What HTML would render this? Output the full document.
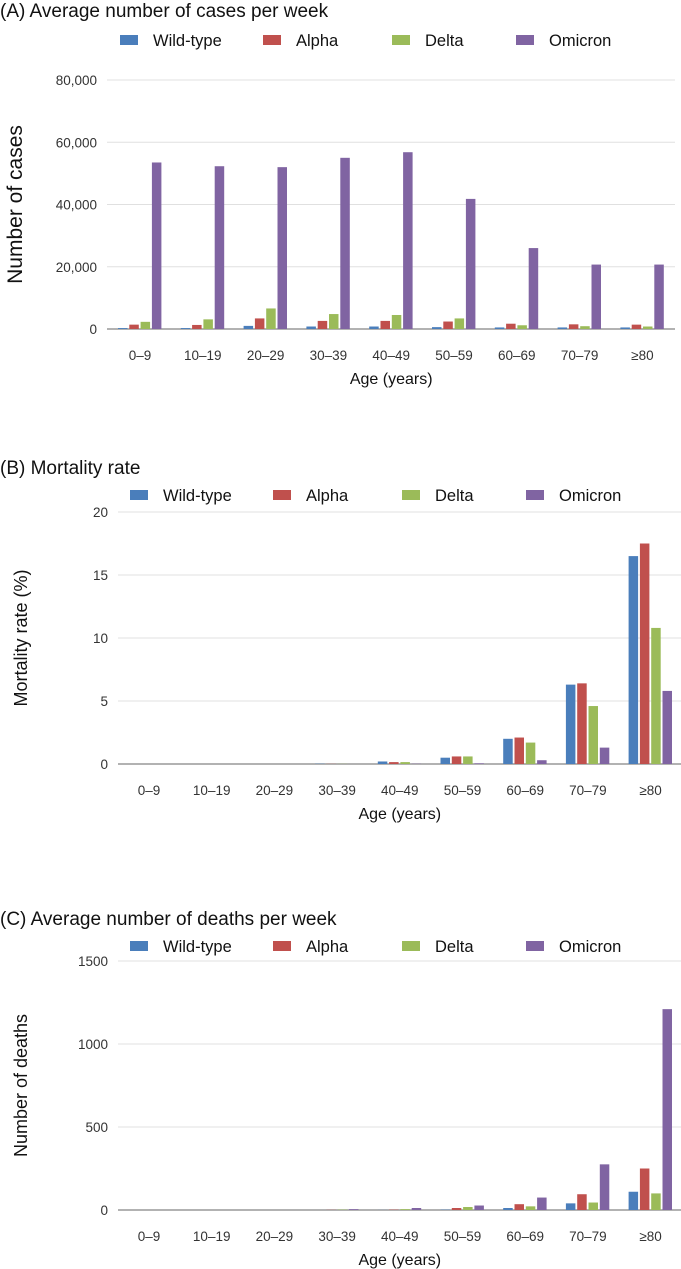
<!DOCTYPE html>
<html><head><meta charset="utf-8"><style>
body{margin:0;background:#fff;font-family:"Liberation Sans",sans-serif;}
svg{display:block}
</style></head><body>
<svg id="chart" width="681" height="1269" xmlns="http://www.w3.org/2000/svg"></svg>
<script>
const categories=["0–9","10–19","20–29","30–39","40–49","50–59","60–69","70–79","≥80"];
const seriesNames=["Wild-type","Alpha","Delta","Omicron"];
const casesWild=[300,300,1000,800,800,600,500,500,500];
const casesAlpha=[1400,1300,3400,2600,2600,2400,1700,1500,1400];
const casesDelta=[2300,3100,6600,4800,4500,3400,1200,900,800];
const casesOmicron=[53500,52300,52000,55000,56800,41800,26000,20700,20700];
const mortWild=[0,0,0,0.02,0.2,0.5,2.0,6.3,16.5];
const mortAlpha=[0,0,0,0.01,0.15,0.6,2.1,6.4,17.5];
const mortDelta=[0,0,0,0.01,0.15,0.6,1.7,4.6,10.8];
const mortOmicron=[0,0,0,0,0.02,0.05,0.3,1.3,5.8];
const deathWild=[0,0,0,0,0.5,2,12,40,110];
const deathAlpha=[0,0,0,1,2,12,35,95,250];
const deathDelta=[0,0,0,2,5,18,22,45,100];
const deathOmicron=[0,0,0,5,12,27,75,275,1210];
const ticksA=[0,20000,40000,60000,80000];
const ticksB=[0,5,10,15,20];
const ticksC=[0,500,1000,1500];

const colors=["#4a7ebb","#c0504d","#9bbb59","#8064a2"];
const svg=document.getElementById('chart');
const NS="http://www.w3.org/2000/svg";
function mk(tag,attrs,parent){const e=document.createElementNS(NS,tag);for(const k in attrs)e.setAttribute(k,attrs[k]);(parent||svg).appendChild(e);return e;}
function txt(s,attrs,parent){const e=mk('text',attrs,parent);e.textContent=s;return e;}

function panel(cfg){
  const g=mk('g',{});
  
  
  const t=txt(cfg.title,{x:0,y:cfg.titleY,'font-size':19,fill:'#111'},g);
  
  
  const lx=[cfg.lx0,cfg.lx0+143,cfg.lx0+272,cfg.lx0+396];
  seriesNames.forEach((n,i)=>{
    const lg=mk('g',{},g);
    
    
    mk('rect',{x:lx[i],y:cfg.legY-6,width:18,height:10,fill:colors[i]},lg);
    txt(n,{x:lx[i]+33,y:cfg.legY+5,'font-size':16.5,fill:'#111'},lg);
  });
  const y=v=>cfg.y0-(v/cfg.max)*(cfg.y0-cfg.yTop);
  cfg.ticks.forEach(v=>{
    const gl=mk('line',{x1:cfg.left,x2:cfg.right,y1:y(v),y2:y(v),stroke:v===0?'#999':'#e0e0e0','stroke-width':v===0?1.5:1},g);
    
    
    const tl=txt(cfg.fmt(v),{x:cfg.left-10,y:y(v)+5,'font-size':13.5,fill:'#333','text-anchor':'end'},g);
    
    
  });
  const step=cfg.step;
  categories.forEach((c,ci)=>{
    const cx=cfg.cx0+ci*step;
    cfg.data.forEach((arr,si)=>{
      const bx=cx-22+si*11.3;
      const b=mk('rect',{x:bx,y:y(arr[ci]),width:9.5,height:Math.max(0,cfg.y0-y(arr[ci])),fill:colors[si]},g);
      
      
    });
    const xl=txt(c,{x:cx,y:cfg.y0+31,'font-size':13.5,fill:'#333','text-anchor':'middle'},g);
    
    
  });
  const xt=txt('Age (years)',{x:(cfg.cx0+cfg.cx0+8*step)/2,y:cfg.y0+55,'font-size':16,fill:'#111','text-anchor':'middle'},g);
  
  
  const ymid=(cfg.y0+cfg.yTop)/2;
  const yt=txt(cfg.ylabel,{x:0,y:0,'font-size':cfg.ylSize,fill:'#111','text-anchor':'middle',transform:`translate(${cfg.ylX},${ymid}) rotate(-90)`},g);
  
  
}
const fmtK=v=>v.toLocaleString('en-US');
panel({name:'panel-a-cases',title:'(A) Average number of cases per week',titleY:17,legY:41,lx0:120,
  ticks:ticksA,max:80000,y0:329,yTop:80,left:107,right:675,cx0:140,step:62.8,
  data:[casesWild,casesAlpha,casesDelta,casesOmicron],fmt:fmtK,ylabel:'Number of cases',ylSize:21,ylX:22});
panel({name:'panel-b-mortality',title:'(B) Mortality rate',titleY:474,legY:496,lx0:130,
  ticks:ticksB,max:20,y0:764,yTop:512,left:118,right:681,cx0:149,step:62.7,
  data:[mortWild,mortAlpha,mortDelta,mortOmicron],fmt:String,ylabel:'Mortality rate (%)',ylSize:18,ylX:27});
panel({name:'panel-c-deaths',title:'(C) Average number of deaths per week',titleY:925,legY:947,lx0:130,
  ticks:ticksC,max:1500,y0:1210,yTop:961,left:118,right:681,cx0:149,step:62.7,
  data:[deathWild,deathAlpha,deathDelta,deathOmicron],fmt:String,ylabel:'Number of deaths',ylSize:18,ylX:27});
</script>
</body></html>
